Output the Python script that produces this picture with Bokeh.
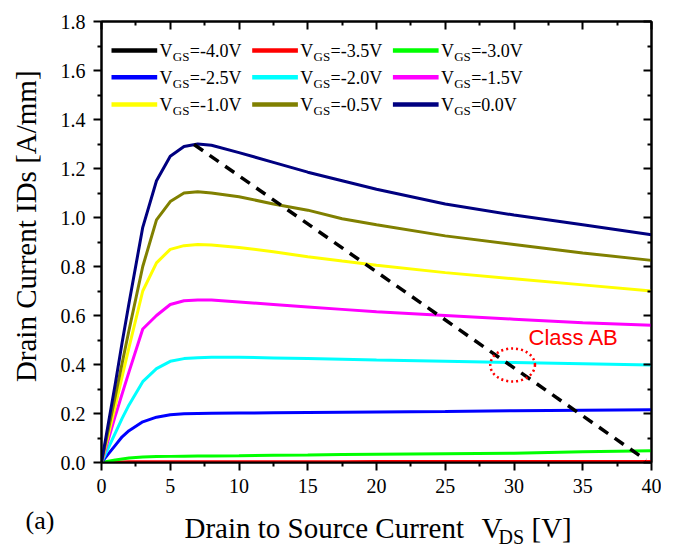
import math
from bokeh.plotting import figure
from bokeh.layouts import row, column
from bokeh.models import Range1d, LinearAxis, Label, FixedTicker, NumeralTickFormatter, CustomJSTickFormatter
from bokeh.embed import file_html
from bokeh.resources import INLINE

# ---------------- data ----------------
vds = [0, 0.5, 1, 1.5, 2, 3, 4, 5, 6, 7, 8, 10, 12.5, 15, 17.5, 20, 25, 30, 35, 40]

id_m40 = [0, 0, 0, 0, 0, 0, 0, 0, 0, 0, 0, 0, 0, 0, 0, 0, 0, 0, 0, 0]
id_m35 = [0, 0, 0.001, 0.002, 0.003, 0.003, 0.003, 0.003, 0.003, 0.003, 0.003, 0.003, 0.003, 0.003, 0.003, 0.004, 0.004, 0.004, 0.004, 0.004]
id_m30 = [0, 0.005, 0.01, 0.014, 0.018, 0.022, 0.024, 0.025, 0.026, 0.027, 0.027, 0.028, 0.03, 0.031, 0.033, 0.034, 0.036, 0.038, 0.044, 0.048]
id_m25 = [0, 0.035, 0.07, 0.105, 0.13, 0.166, 0.185, 0.195, 0.199, 0.2, 0.201, 0.202, 0.203, 0.204, 0.205, 0.206, 0.208, 0.211, 0.213, 0.215]
id_m20 = [0, 0.06, 0.12, 0.18, 0.235, 0.33, 0.383, 0.413, 0.424, 0.428, 0.43, 0.43, 0.427, 0.424, 0.421, 0.418, 0.413, 0.408, 0.403, 0.398]
id_m15 = [0, 0.095, 0.19, 0.28, 0.37, 0.545, 0.60, 0.645, 0.66, 0.663, 0.663, 0.655, 0.645, 0.635, 0.625, 0.615, 0.60, 0.585, 0.57, 0.56]
id_m10 = [0, 0.115, 0.23, 0.35, 0.47, 0.70, 0.815, 0.87, 0.885, 0.89, 0.888, 0.878, 0.86, 0.84, 0.822, 0.805, 0.775, 0.75, 0.725, 0.70]
id_m05 = [0, 0.135, 0.27, 0.405, 0.54, 0.80, 0.99, 1.065, 1.10, 1.105, 1.10, 1.085, 1.055, 1.03, 0.995, 0.97, 0.925, 0.89, 0.855, 0.825]
id_00 = [0, 0.16, 0.32, 0.49, 0.65, 0.96, 1.15, 1.25, 1.29, 1.30, 1.295, 1.265, 1.225, 1.185, 1.15, 1.115, 1.055, 1.01, 0.97, 0.93]

series_ids = [id_m40, id_m35, id_m30, id_m25, id_m20, id_m15, id_m10, id_m05, id_00]
series_vals = ["-4.0", "-3.5", "-3.0", "-2.5", "-2.0", "-1.5", "-1.0", "-0.5", "0.0"]
series_colors = ["#000000", "#FF0000", "#00FF00", "#0000FF", "#00FFFF", "#FF00FF", "#FFFF00", "#808000", "#000080"]

loadline_v = [6.73, 39.6]
loadline_i = [1.298, 0.01]

classab_v = 29.9
classab_i = 0.398
classab_w = 3.25
classab_h = 0.135

x_ticks = [0, 5, 10, 15, 20, 25, 30, 35, 40]
x_minor = [2.5, 7.5, 12.5, 17.5, 22.5, 27.5, 32.5, 37.5]
y_ticks = [0.0, 0.2, 0.4, 0.6, 0.8, 1.0, 1.2, 1.4, 1.6, 1.8]
y_minor = [0.1, 0.3, 0.5, 0.7, 0.9, 1.1, 1.3, 1.5, 1.7]

# ---------------- layout (picture px) ----------------
FL, FT = 101.0, 21.0           # frame left / top
FW, FH = 550, 441
FB = FT + FH
XS = FW / 40.0
YS = FH / 1.8
LEFT_W = 45                    # left text strip
MAIN_H = 505                   # main figure height
TOTAL_W = 661
BOT_H = 46
SERIF = "Liberation Serif"
K_SERIF = 0.33                 # empirical baseline correction (em)
K_SANS = 0.43

p = figure(width=TOTAL_W - LEFT_W, height=MAIN_H,
           x_range=Range1d(0, 40), y_range=Range1d(0, 1.8),
           output_backend="svg", toolbar_location=None,
           min_border_left=int(FL - LEFT_W), min_border_right=int(TOTAL_W - LEFT_W - (FL - LEFT_W) - FW),
           min_border_top=int(FT), min_border_bottom=int(MAIN_H - FB))
p.title.visible = False
p.grid.visible = False
p.outline_line_color = "black"
p.outline_line_width = 2
p.background_fill_color = "white"
p.border_fill_color = "white"


def style_axis(ax, ticks, minor, out=True):
    ax.ticker = FixedTicker(ticks=ticks, minor_ticks=minor)
    ax.axis_line_width = 2
    ax.major_tick_line_width = 2
    ax.minor_tick_line_width = 2
    ax.axis_line_color = "black"
    ax.major_tick_line_color = "black"
    ax.minor_tick_line_color = "black"
    if out:
        ax.major_tick_out, ax.major_tick_in = 8, 0
        ax.minor_tick_out, ax.minor_tick_in = 4, 0
    else:
        ax.major_tick_out, ax.major_tick_in = 0, 8
        ax.minor_tick_out, ax.minor_tick_in = 0, 4
    ax.major_label_text_font = SERIF
    ax.major_label_text_font_size = "20px"
    ax.major_label_text_color = "black"


style_axis(p.xaxis[0], x_ticks, x_minor)
style_axis(p.yaxis[0], y_ticks, y_minor)
p.xaxis[0].major_label_standoff = 8
p.yaxis[0].major_label_standoff = 8
p.yaxis[0].formatter = NumeralTickFormatter(format="0.0")

top = LinearAxis()
style_axis(top, x_ticks, x_minor, out=False)
top.formatter = CustomJSTickFormatter(code="return ''")
top.major_label_standoff = 0
p.add_layout(top, "above")
right = LinearAxis()
style_axis(right, y_ticks, y_minor, out=False)
right.formatter = CustomJSTickFormatter(code="return ''")
right.major_label_standoff = 0
p.add_layout(right, "right")

# ---------------- curves ----------------
for ids, col in zip(series_ids, series_colors):
    p.line(vds, ids, line_color=col, line_width=3)

p.line(loadline_v, loadline_i, line_color="black", line_width=3.5, line_dash="11 8")
p.ellipse(x=[classab_v], y=[classab_i], width=classab_w, height=classab_h,
          fill_color=None, line_color="#FF0000", line_width=2.5, line_dash="2 3")


def dx(px):
    return (px - FL) / XS


def dy(py):
    return (FB - py) / YS


def lab(fig, text, x, y, size, font=SERIF, color="black", align="left", angle=0.0):
    fig.add_layout(Label(x=x, y=y, text=text, text_font=font, text_font_size="%dpx" % size,
                         text_color=color, text_align=align, text_baseline="alphabetic", angle=angle))


def base_fix(py, size, k=K_SERIF):
    return py - k * size


# legend
col_x = [111.0, 251.7, 392.4]
row_y = [50.0, 76.7, 104.0]
for k, (v, col) in enumerate(zip(series_vals, series_colors)):
    r, c = divmod(k, 3)
    x0 = col_x[c]
    y0 = row_y[r]
    p.segment(x0=[dx(x0)], y0=[dy(y0)], x1=[dx(x0 + 45.7)], y1=[dy(y0)], line_color=col, line_width=4.5)
    tx = x0 + 48
    base = y0 + 6.5
    lab(p, "V", dx(tx), dy(base_fix(base, 18)), 18)
    lab(p, "GS", dx(tx + 13.3), dy(base_fix(base + 4, 13)), 13)
    lab(p, "=" + v + "V", dx(tx + 30.3), dy(base_fix(base, 18)), 18)

lab(p, "Class AB", dx(528), dy(base_fix(346.7, 22, K_SANS)), 22, font="Liberation Sans", color="#FF0000")


# ---------------- text strips (frames cover the whole strip, y downward) ----------------
def strip(w, h):
    f = figure(width=w, height=h, x_range=Range1d(0, w), y_range=Range1d(h, 0),
               x_axis_type=None, y_axis_type=None, output_backend="svg", toolbar_location=None,
               min_border=0, min_border_left=0, min_border_right=0, min_border_top=0, min_border_bottom=0)
    f.title.visible = False
    f.grid.visible = False
    f.outline_line_color = None
    f.background_fill_color = "white"
    f.border_fill_color = "white"
    return f


left = strip(LEFT_W, MAIN_H)
lab(left, "Drain Current IDs [A/mm]", 35 - K_SERIF * 29, 226.5 + 8, 29, align="center", angle=math.pi / 2)

bottom = strip(TOTAL_W, BOT_H)
Y0 = MAIN_H
lab(bottom, "Drain to Source Current", 184, base_fix(537, 29) - Y0, 29)
lab(bottom, "V", 481, base_fix(537, 29) - Y0, 29)
lab(bottom, "DS", 498, base_fix(543, 20) - Y0, 20)
lab(bottom, "[V]", 531, base_fix(537, 29) - Y0, 29)
lab(bottom, "(a)", 25, base_fix(529, 26) - Y0, 26)

root = column(row(left, p, spacing=0), bottom, spacing=0)

open("out.html", "w").write(file_html(root, INLINE))
